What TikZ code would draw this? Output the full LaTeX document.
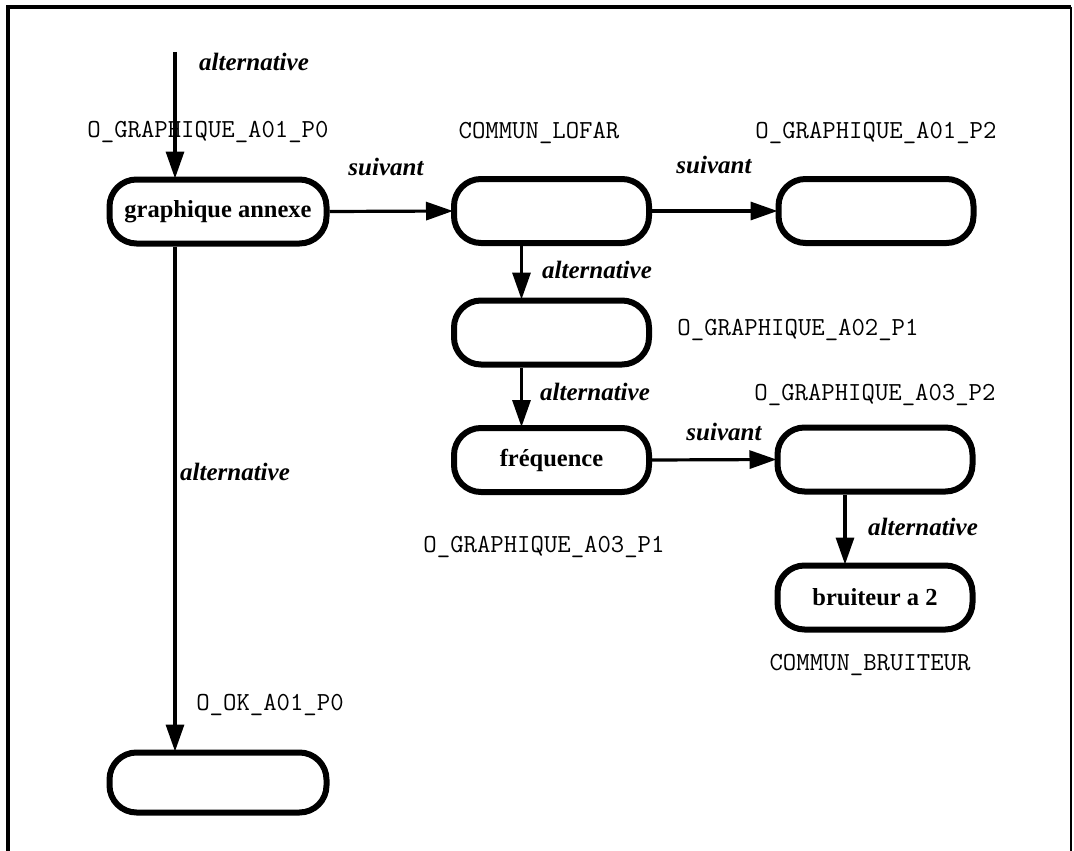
\documentclass[tikz,border=0pt]{standalone}
\usepackage{fontspec}
\setmainfont{Liberation Serif}
\usetikzlibrary{arrows.meta}
\begin{document}
\begin{tikzpicture}[x=1pt,y=-1pt,
  state/.style={draw=black,line width=6pt,rounded corners=27pt,fill=white,
    minimum height=64pt,minimum width=195pt,inner sep=0pt,
    font=\fontsize{24.5}{28}\selectfont\bfseries},
  widestate/.style={state,minimum width=217pt},
  flow/.style={line width=3.2pt,-{Triangle[length=27pt,width=18pt]},shorten >=-2pt},
  edgelabel/.style={font=\fontsize{25}{28}\selectfont\bfseries\itshape,inner sep=0pt},
  codelabel/.style={font=\fontsize{26}{30}\selectfont\ttfamily,inner sep=0pt}]
  \useasboundingbox (0,0) rectangle (1074,851);
  \fill[white] (0,0) rectangle (1074,851);
  % frame
  \draw[line width=4.5pt] (8,851) -- (8,7) -- (1071,7);
  \draw[line width=2.5pt] (1071,7) -- (1071,851);

  % states
  \node[widestate] (ga)    at (218,211.5) {graphique annexe};
  \node[state]     (lofar) at (551.5,211) {};
  \node[state]     (p2)    at (876,211)   {};
  \node[state]     (a02)   at (551.5,332.5) {};
  \node[state]     (freq)  at (551.5,460) {fréquence};
  \node[state]     (a03)   at (875,459.5) {};
  \node[state]     (bruit) at (875,597.5) {bruiteur a 2};
  \node[widestate,minimum height=60pt] (ok) at (218,782.5) {};

  \coordinate (entry) at (175,52);

  % connectors
  \draw[flow] (entry) -- (entry |- ga.north);
  \draw[flow] (ga.east) -- (lofar.west);
  \draw[flow] (lofar.east) -- (p2.west);
  \draw[flow] ([xshift=-30pt]lofar.south) -- ([xshift=-30pt]a02.north);
  \draw[flow] ([xshift=-30pt]a02.south) -- ([xshift=-30pt]freq.north);
  \draw[flow] (freq.east) -- (a03.west);
  \draw[flow] ([xshift=-30pt]a03.south) -- ([xshift=-30pt]bruit.north);
  \draw[flow] ([xshift=-43pt]ga.south) -- ([xshift=-43pt]ok.north);

  % connector labels
  \node[edgelabel] (l1) at (254,62)  {alternative};
  \node[edgelabel] (l2) at (386,167) {suivant};
  \node[edgelabel] (l3) at (714,165) {suivant};
  \node[edgelabel] (l4) at (597,270) {alternative};
  \node[edgelabel] (l5) at (595,392) {alternative};
  \node[edgelabel] (l6) at (724,432) {suivant};
  \node[edgelabel] (l7) at (923,527) {alternative};
  \node[edgelabel] (l8) at (235,472) {alternative};

  % state identifiers
  \node[codelabel] (c1) at (208,132) {O\_GRAPHIQUE\_A01\_P0};
  \node[codelabel] (c2) at (539,133) {COMMUN\_LOFAR};
  \node[codelabel] (c3) at (876,133) {O\_GRAPHIQUE\_A01\_P2};
  \node[codelabel] (c4) at (798,330) {O\_GRAPHIQUE\_A02\_P1};
  \node[codelabel] (c5) at (875,395) {O\_GRAPHIQUE\_A03\_P2};
  \node[codelabel] (c6) at (544,547) {O\_GRAPHIQUE\_A03\_P1};
  \node[codelabel] (c7) at (870,665) {COMMUN\_BRUITEUR};
  \node[codelabel] (c8) at (270,705) {O\_OK\_A01\_P0};
\end{tikzpicture}
\end{document}
